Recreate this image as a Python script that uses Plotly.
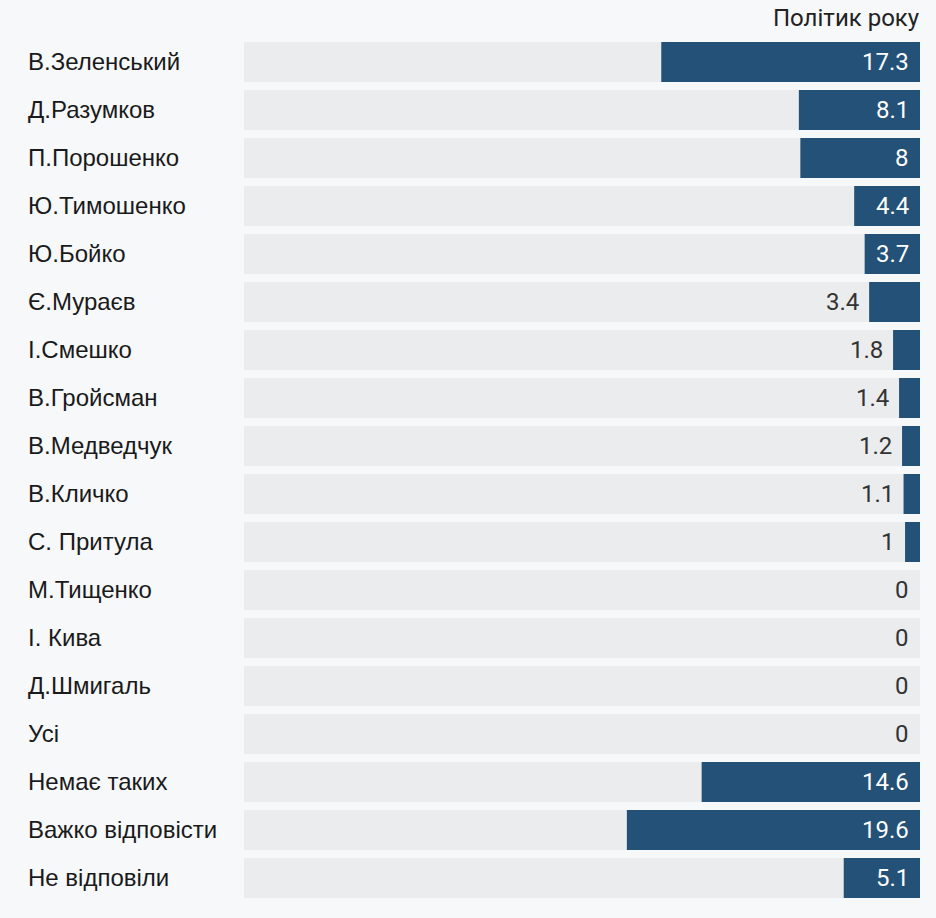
import plotly.graph_objects as go

categories = ["В.Зеленський", "Д.Разумков", "П.Порошенко", "Ю.Тимошенко", "Ю.Бойко",
              "Є.Мураєв", "І.Смешко", "В.Гройсман", "В.Медведчук", "В.Кличко",
              "С. Притула", "М.Тищенко", "І. Кива", "Д.Шмигаль", "Усі",
              "Немає таких", "Важко відповісти", "Не відповіли"]
values = [17.3, 8.1, 8, 4.4, 3.7, 3.4, 1.8, 1.4, 1.2, 1.1, 1, 0, 0, 0, 0, 14.6, 19.6, 5.1]
title_text = "Політик року"

AXIS_MAX = 45.2
INSIDE_MIN = 3.5
BAR_COLOR = "#235177"
TRACK_COLOR = "#ebecee"
BG = "#f7f8fa"

fig = go.Figure()
fig.add_trace(go.Bar(y=categories, x=[AXIS_MAX] * len(categories), orientation="h",
                     marker=dict(color=TRACK_COLOR, line_width=0), hoverinfo="skip"))
fig.add_trace(go.Bar(y=categories, x=values, orientation="h",
                     marker=dict(color=BAR_COLOR, line_width=0)))

annotations = []
for c, v in zip(categories, values):
    annotations.append(dict(x=-0.3225, xref="paper", y=c, yref="y", text=c, showarrow=False,
                            xanchor="left", yanchor="middle", yshift=0.5,
                            font=dict(family="Liberation Sans, Arial", size=24, color="#1a1a1a")))
    inside = v >= INSIDE_MIN or v == 0
    label = f"{v:g}"
    annotations.append(dict(x=0 if inside else v, xref="x", y=c, yref="y", text=label,
                            showarrow=False, xanchor="right", yanchor="middle",
                            xshift=-9 if inside else -8,
                            font=dict(family="Roboto", size=24,
                                      color="#ffffff" if (inside and v > 0) else "#333333")))
annotations.append(dict(x=1, xref="paper", y=1.0226, yref="paper", xshift=2, text=title_text,
                        showarrow=False, xanchor="right", yanchor="middle",
                        font=dict(family="Roboto", size=24, color="#222222")))

fig.update_layout(
    width=936, height=918, barmode="overlay", bargap=8 / 48, showlegend=False,
    paper_bgcolor=BG, plot_bgcolor=BG,
    margin=dict(l=244, r=16, t=38, b=16),
    xaxis=dict(range=[AXIS_MAX, 0], visible=False, fixedrange=True),
    yaxis=dict(autorange="reversed", visible=False, fixedrange=True),
    annotations=annotations,
)
fig.write_html("out.html", config={"displayModeBar": False},
               post_script="document.body.style.margin='0';document.body.style.background='#f7f8fa';")
